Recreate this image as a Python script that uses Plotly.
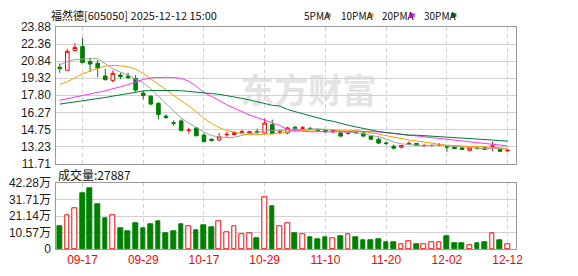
import plotly.graph_objects as go

W, H = 578, 276

dates = ["09-12","09-15","09-16","09-17","09-18","09-19","09-22","09-23","09-24","09-25",
         "09-26","09-29","09-30","10-09","10-10","10-13","10-14","10-15","10-16","10-17",
         "10-20","10-21","10-22","10-23","10-24","10-27","10-28","10-29","10-30","10-31",
         "11-03","11-04","11-05","11-06","11-07","11-10","11-11","11-12","11-13","11-14",
         "11-17","11-18","11-19","11-20","11-21","11-24","11-25","11-26","11-27","11-28",
         "12-01","12-02","12-03","12-04","12-05","12-08","12-09","12-10","12-11","12-12"]

opens  = [20.30,20.02,21.77,22.13,20.81,20.64,19.51,19.12,19.60,19.51,
          19.28,17.99,17.71,17.06,15.94,15.34,15.51,14.66,14.89,14.25,
          13.88,13.82,14.28,14.30,14.52,14.44,14.55,14.44,15.18,14.50,
          14.44,14.95,14.86,14.85,14.75,14.67,14.53,14.44,14.42,14.50,
          14.44,14.16,13.88,13.54,13.26,13.18,13.49,13.51,13.30,13.31,
          13.38,13.20,13.18,13.12,12.89,13.10,13.12,13.25,12.98,12.84]
highs  = [20.64,21.94,22.42,22.89,21.15,20.92,20.16,20.02,19.80,19.80,
          19.60,18.19,17.82,17.20,16.08,15.57,15.65,14.89,14.95,14.39,
          13.96,14.44,14.53,14.61,14.72,14.61,14.81,15.74,15.63,14.75,
          14.98,15.05,15.05,14.98,14.81,14.75,14.72,14.53,14.58,14.58,
          14.50,14.22,14.05,13.68,13.40,13.36,13.68,13.55,13.45,13.40,
          13.54,13.22,13.22,13.15,13.15,13.15,13.15,13.68,13.00,12.94]
lows   = [19.79,20.00,21.71,20.64,19.88,19.40,19.12,18.95,19.23,19.23,
          18.11,17.43,16.92,15.65,15.71,15.09,14.58,14.39,14.16,13.60,
          13.68,13.74,14.10,14.22,14.39,14.39,14.33,14.39,14.33,14.33,
          14.33,14.70,14.75,14.70,14.55,14.50,14.47,14.10,14.30,14.36,
          14.10,13.80,13.45,13.34,12.98,13.06,13.34,13.30,13.25,13.25,
          13.26,12.75,13.00,12.95,12.87,13.00,12.95,12.84,12.80,12.82]
closes = [20.19,21.71,22.05,20.72,20.58,20.22,19.18,19.74,19.46,19.37,
          18.26,17.77,17.01,16.08,15.82,15.31,14.67,14.68,14.19,13.68,
          13.77,14.10,14.31,14.47,14.54,14.56,14.53,15.32,14.39,14.53,
          14.89,14.81,14.89,14.81,14.64,14.55,14.67,14.16,14.44,14.47,
          14.16,13.88,13.54,13.51,13.09,13.32,13.51,13.34,13.33,13.33,
          13.40,13.18,13.04,12.98,13.12,13.05,12.98,13.28,12.81,12.90]

ma5  = [20.50,20.80,20.98,21.03,21.05,21.06,20.60,20.15,19.85,19.60,
        19.20,18.92,18.37,17.70,17.00,16.40,15.78,15.31,14.94,14.51,
        14.20,14.08,14.01,14.06,14.23,14.37,14.45,14.66,14.64,14.64,
        14.73,14.79,14.70,14.79,14.81,14.74,14.71,14.57,14.49,14.46,
        14.38,14.22,14.10,13.91,13.64,13.47,13.39,13.35,13.31,13.36,
        13.38,13.31,13.25,13.18,13.14,13.07,13.03,13.08,13.05,13.00]
ma10 = [18.75,19.00,19.35,19.70,19.95,20.20,20.40,20.45,20.42,20.32,
        20.13,19.74,19.23,18.77,18.29,17.80,17.35,16.84,16.32,15.75,
        15.30,14.93,14.66,14.50,14.37,14.28,14.27,14.34,14.35,14.44,
        14.55,14.62,14.68,14.72,14.73,14.74,14.75,14.64,14.64,14.64,
        14.56,14.47,14.34,14.20,14.05,13.93,13.81,13.73,13.61,13.50,
        13.43,13.35,13.30,13.25,13.25,13.23,13.17,13.17,13.12,13.07]
ma20 = [17.35,17.48,17.62,17.78,17.92,18.05,18.20,18.35,18.55,18.75,
        19.00,19.20,19.35,19.40,19.40,19.38,19.30,19.05,18.60,18.04,
        17.72,17.34,16.95,16.64,16.33,16.04,15.81,15.59,15.34,15.10,
        14.74,14.64,14.59,14.55,14.55,14.51,14.55,14.50,14.54,14.60,
        14.59,14.58,14.53,14.47,14.40,14.34,14.28,14.19,14.13,14.07,
        13.99,13.91,13.82,13.73,13.65,13.58,13.49,13.45,13.37,13.29]
ma30 = [17.01,17.10,17.20,17.30,17.40,17.50,17.60,17.72,17.85,17.98,
        18.10,18.18,18.22,18.24,18.24,18.22,18.20,18.15,18.10,18.02,
        17.95,17.88,17.78,17.66,17.52,17.38,17.22,17.05,16.90,16.84,
        16.54,16.34,16.14,15.95,15.77,15.60,15.48,15.28,15.13,14.98,
        14.83,14.69,14.57,14.48,14.39,14.32,14.24,14.24,14.20,14.17,
        14.15,14.10,14.06,14.01,13.97,13.93,13.88,13.81,13.75,13.71]

vol_wan = [14.8,21.8,26.0,35.6,39.1,28.9,19.7,21.8,13.6,11.6,
           16.7,13.6,15.9,17.7,10.4,11.6,15.9,14.6,12.2,15.3,
           14.2,18.1,10.8,14.6,9.6,10.2,6.7,33.4,27.5,14.6,
           16.5,10.4,9.2,7.3,6.1,7.3,6.7,7.9,9.6,7.3,
           5.5,5.5,6.1,4.3,4.3,3.1,4.7,3.1,3.1,4.1,
           4.1,8.5,3.7,3.7,2.4,3.7,4.3,10.2,5.5,2.7887]
vol_up = [0,1,1,0,0,0,0,1,0,0, 0,0,0,0,0,0,0,1,0,0,
          0,1,1,1,1,1,0,1,0,1, 1,0,1,0,0,0,1,0,1,0,
          0,0,0,0,0,1,1,0,1,1, 1,0,0,0,1,0,0,1,0,1]

price_ticks = [11.71,13.23,14.75,16.27,17.80,19.32,20.84,22.36,23.88]
vol_ticks = [0,10.57,21.14,31.71,42.28]
vol_tick_text = ["0","10.57万","21.14万","31.71万","42.28万"]
tick_dates = ["09-17","09-29","10-17","10-29","11-10","11-20","12-02","12-12"]
stock_title = "福然德[605050] 2025-12-12 15:00"
vol_title = "成交量:27887"
ma_names = ["5PMA","10PMA","20PMA","30PMA"]

RED = "#ff0000"
GRN = "#008000"
ma_colors = ["#a0a0a0", "#f0a000", "#ff33ff", "#007a33"]

x = list(range(len(dates)))
tickvals = [dates.index(d) for d in tick_dates]

fig = go.Figure()
fig.add_trace(go.Candlestick(
    x=x, open=opens, high=highs, low=lows, close=closes,
    increasing=dict(line=dict(color=RED, width=1), fillcolor="white"),
    decreasing=dict(line=dict(color=GRN, width=1), fillcolor=GRN),
    whiskerwidth=0, xaxis="x", yaxis="y", showlegend=False, hoverinfo="skip"))

for vals, col in zip([ma5, ma10, ma20, ma30], ma_colors):
    fig.add_trace(go.Scatter(x=x, y=vals, mode="lines", line=dict(color=col, width=1),
                             xaxis="x", yaxis="y", showlegend=False, hoverinfo="skip"))

fig.add_trace(go.Bar(
    x=x, y=vol_wan, width=0.62,
    marker=dict(color=["white" if u else GRN for u in vol_up],
                line=dict(color=[RED if u else GRN for u in vol_up], width=1)),
    xaxis="x2", yaxis="y2", showlegend=False, hoverinfo="skip"))

xdom = [57/W, 522.3/W]
BORDER = "#999999"
GRID = "#d2d2d2"
axfont = dict(family="Liberation Sans, Arial, Noto Sans CJK SC", size=12, color="#1a1a1a")

fig.update_layout(
    width=W, height=H, margin=dict(l=0, r=0, t=0, b=0),
    paper_bgcolor="white", plot_bgcolor="rgba(0,0,0,0)",
    boxgap=0.32, bargap=0,
    xaxis=dict(domain=xdom, range=[-0.45, 60.1], tickvals=tickvals, showticklabels=False,
               showgrid=True, gridcolor=GRID, griddash="4px,3px", gridwidth=1,
               showline=True, mirror=True, linecolor=BORDER, linewidth=1,
               zeroline=False, rangeslider=dict(visible=False), anchor="y", fixedrange=True),
    yaxis=dict(domain=[1-165/H, 1-21/H], range=[11.71, 23.88], tickvals=price_ticks,
               ticktext=[f"{v:.2f}" for v in price_ticks],
               showgrid=True, gridcolor=GRID, gridwidth=1, tickfont=axfont,
               showline=True, mirror=True, linecolor=BORDER, linewidth=1,
               zeroline=False, ticks="", ticklabelstandoff=2, anchor="x"),
    xaxis2=dict(domain=xdom, range=[-0.45, 60.1], tickvals=tickvals, ticktext=tick_dates,
                tickfont=dict(family="Liberation Sans, Arial", size=12, color=RED),
                showgrid=True, gridcolor=GRID, griddash="4px,3px", gridwidth=1,
                showline=True, mirror=True, linecolor=BORDER, linewidth=1,
                zeroline=False, ticks="", anchor="y2"),
    yaxis2=dict(domain=[1-255/H, 1-185.7/H], range=[0, 42.28], tickvals=vol_ticks,
                ticktext=vol_tick_text, tickfont=axfont,
                showgrid=True, gridcolor=GRID, gridwidth=1,
                showline=True, mirror=True, linecolor=BORDER, linewidth=1,
                zeroline=False, ticks="", ticklabelstandoff=2, anchor="x2"),
)

# watermark (below the data)
fig.add_shape(type="rect", xref="x", yref="y", x0=27.5, x1=38.0, y0=16.4, y1=19.5,
              line=dict(width=0), fillcolor="rgba(0,0,0,0)", layer="below",
              label=dict(text="<b>东方财富</b>", textposition="middle center",
                         font=dict(family="Noto Sans CJK SC", size=34, color="#e4e4e4")))

# header
fig.add_annotation(x=50/W, y=1-8.5/H, xref="paper", yref="paper", xanchor="left", yanchor="middle",
                   text=stock_title, showarrow=False,
                   font=dict(family="Noto Sans CJK SC", size=11, color="#111"))
leg_x = [306, 343, 385, 427]
sq_x = [330, 373, 415, 457]
for name, lx, sx, col in zip(ma_names, leg_x, sq_x, ma_colors):
    fig.add_annotation(x=lx/W, y=1-8.5/H, xref="paper", yref="paper", xanchor="left",
                       yanchor="middle", text=name, showarrow=False,
                       font=dict(family="Noto Sans CJK SC", size=10, color="#111"))
    fig.add_shape(type="rect", xref="paper", yref="paper", x0=sx/W, x1=(sx+5)/W,
                  y0=1-10.5/H, y1=1-6.5/H, line=dict(width=0), fillcolor=col)

fig.add_annotation(x=57/W, y=1-176.5/H, xref="paper", yref="paper", xanchor="left", yanchor="middle",
                   text=vol_title, showarrow=False,
                   font=dict(family="Noto Sans CJK SC", size=12, color="#111"))

fig.write_html("out.html")
